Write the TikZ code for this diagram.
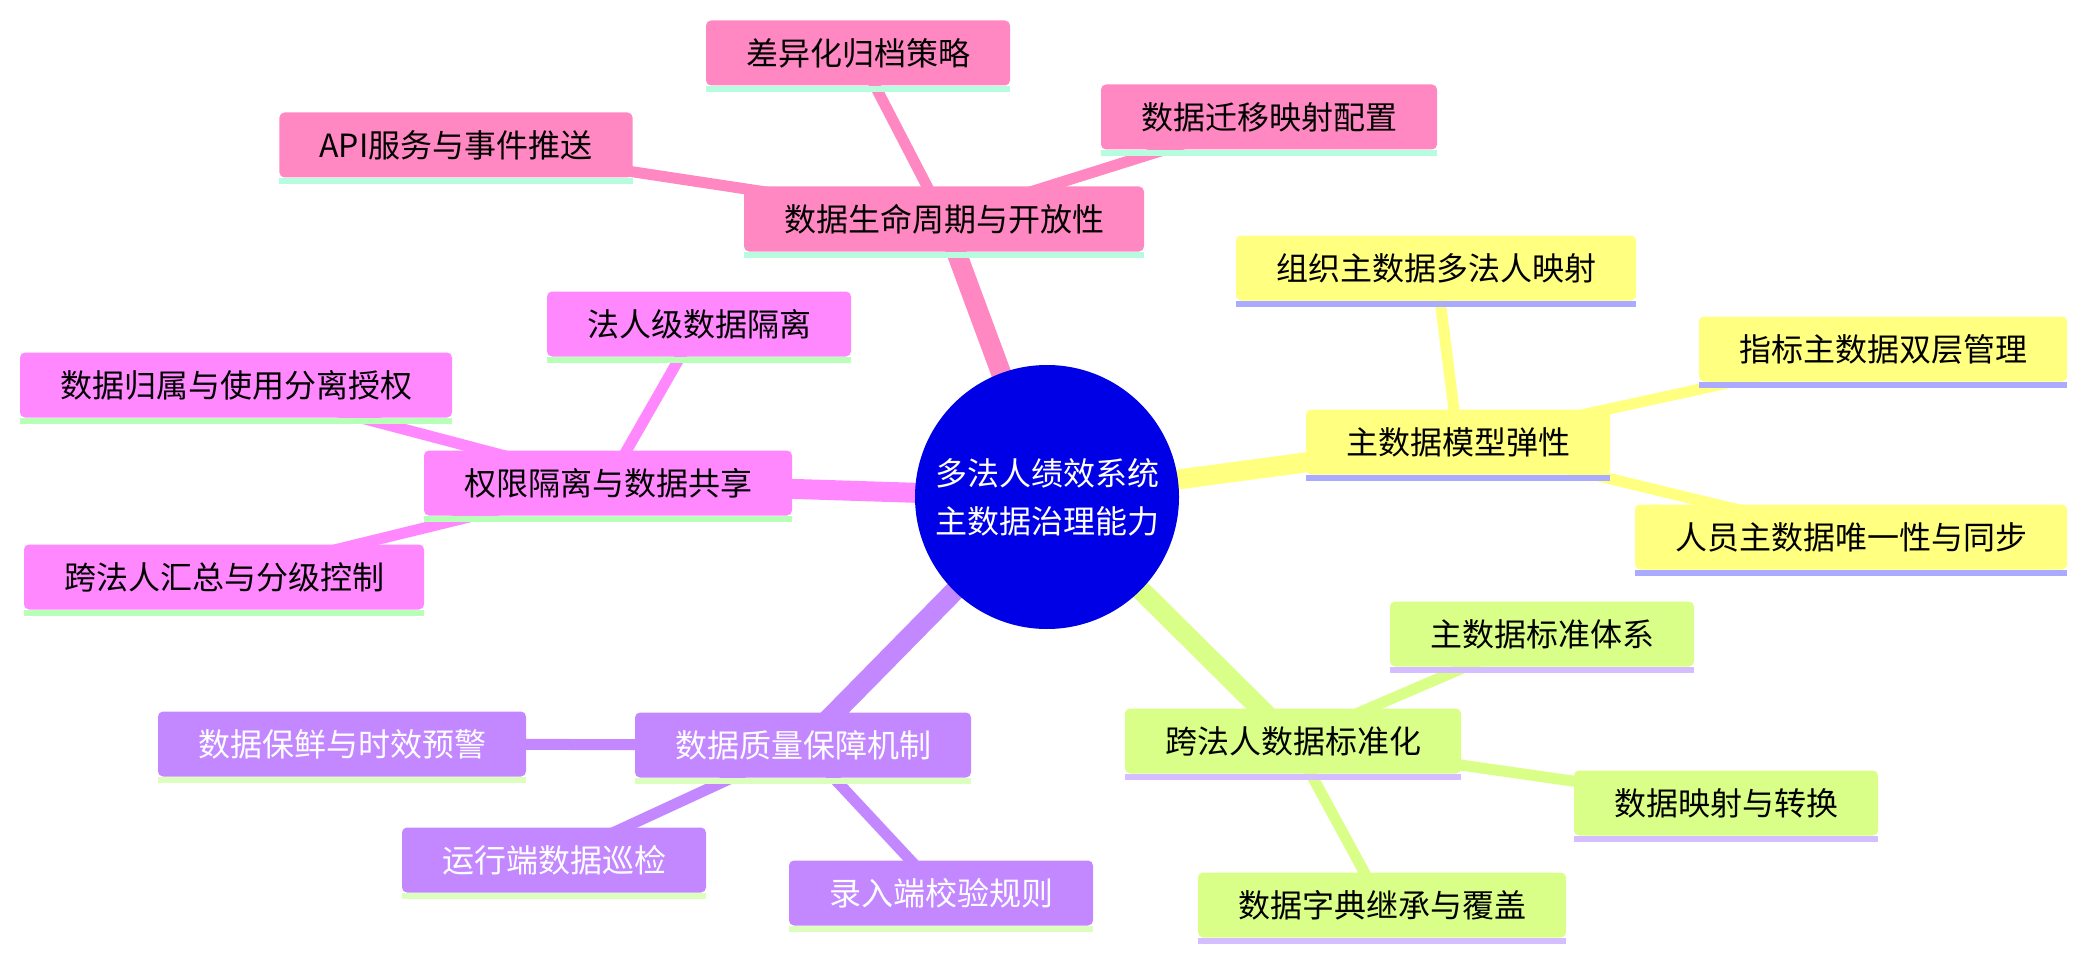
\documentclass[tikz,border=0pt]{standalone}
\usepackage{fontspec}
\setmainfont{Noto Sans CJK SC}
\usepackage{tikz}
\usetikzlibrary{backgrounds}

\definecolor{rootBlue}{RGB}{0,0,230}
\definecolor{lifeFill}{RGB}{255,136,194}
\definecolor{lifeLine}{RGB}{184,252,224}
\definecolor{permFill}{RGB}{255,136,255}
\definecolor{permLine}{RGB}{184,255,184}
\definecolor{modelFill}{RGB}{255,255,128}
\definecolor{modelLine}{RGB}{170,170,255}
\definecolor{stdFill}{RGB}{218,255,136}
\definecolor{stdLine}{RGB}{212,190,255}
\definecolor{qualFill}{RGB}{195,136,255}
\definecolor{qualLine}{RGB}{221,255,190}

\begin{document}
\begin{tikzpicture}[
            x=1pt, y=-1pt,
            every node/.style={font=\fontsize{32}{48}\selectfont},
            root/.style={
                circle,
                fill=rootBlue,
                text=white,
                minimum size=264pt,
                inner sep=0pt,
                align=center
            },
            leaf/.style={
                rectangle,
                rounded corners=5pt,
                inner xsep=40pt,
                inner ysep=0pt,
                minimum height=65pt,
                text=black
            },
            under/.style={
                append after command={([yshift=-3pt]\tikzlastnode.south west) edge[line width=6pt, draw=#1] ([yshift=-3pt]\tikzlastnode.south east)}
            },
            life/.style={leaf, fill=lifeFill, under=lifeLine},
            perm/.style={leaf, fill=permFill, under=permLine},
            model/.style={leaf, fill=modelFill, under=modelLine},
            std/.style={leaf, fill=stdFill, under=stdLine},
            qual/.style={leaf, fill=qualFill, under=qualLine, text=white},
            trunk/.style={line width=20pt},
            twig/.style={line width=11pt}
        ]
            \useasboundingbox (0,0) rectangle (2087,960);

            % --- ROOT ---
            \node [root] (root) at (1047,497) {多法人绩效系统\\主数据治理能力};

            % --- LIFECYCLE ---
            \node [life] (lifecycle) at (944,219) {数据生命周期与开放性};
            \node [life] (archive) at (858,53) {差异化归档策略};
            \node [life] (migrate) at (1269,117) {数据迁移映射配置};
            \node [life] (api) at (456,145) {API服务与事件推送};

            % --- ACCESS ---
            \node [perm] (access) at (608,483) {权限隔离与数据共享};
            \node [perm] (isolate) at (699,324) {法人级数据隔离};
            \node [perm] (owner) at (236,385) {数据归属与使用分离授权};
            \node [perm] (summary) at (224,577) {跨法人汇总与分级控制};

            % --- MODEL ---
            \node [model] (model) at (1458,442) {主数据模型弹性};
            \node [model] (orgmap) at (1436,268) {组织主数据多法人映射};
            \node [model] (metric) at (1883,349) {指标主数据双层管理};
            \node [model] (person) at (1851,537) {人员主数据唯一性与同步};

            % --- STANDARD ---
            \node [std] (standard) at (1293,741) {跨法人数据标准化};
            \node [std] (stdsys) at (1542,634) {主数据标准体系};
            \node [std] (mapping) at (1726,803) {数据映射与转换};
            \node [std] (dict) at (1382,905) {数据字典继承与覆盖};

            % --- QUALITY ---
            \node [qual] (quality) at (803,745) {数据质量保障机制};
            \node [qual] (fresh) at (342,744) {数据保鲜与时效预警};
            \node [qual] (patrol) at (554,860) {运行端数据巡检};
            \node [qual] (entry) at (941,893) {录入端校验规则};

            % --- BRANCHES ---
            \begin{scope}[on background layer]
                \draw [trunk, lifeFill] (root.center) -- (lifecycle.center);
                \draw [trunk, permFill] (root.center) -- (access.center);
                \draw [trunk, modelFill] (root.center) -- (model.center);
                \draw [trunk, stdFill] (root.center) -- (standard.center);
                \draw [trunk, qualFill] (root.center) -- (quality.center);

                \draw [twig, lifeFill] (lifecycle.center) -- (archive.center);
                \draw [twig, lifeFill] (lifecycle.center) -- (migrate.center);
                \draw [twig, lifeFill] (lifecycle.center) -- (api.center);

                \draw [twig, permFill] (access.center) -- (isolate.center);
                \draw [twig, permFill] (access.center) -- (owner.center);
                \draw [twig, permFill] (access.center) -- (summary.center);

                \draw [twig, modelFill] (model.center) -- (orgmap.center);
                \draw [twig, modelFill] (model.center) -- (metric.center);
                \draw [twig, modelFill] (model.center) -- (person.center);

                \draw [twig, stdFill] (standard.center) -- (stdsys.center);
                \draw [twig, stdFill] (standard.center) -- (mapping.center);
                \draw [twig, stdFill] (standard.center) -- (dict.center);

                \draw [twig, qualFill] (quality.center) -- (fresh.center);
                \draw [twig, qualFill] (quality.center) -- (patrol.center);
                \draw [twig, qualFill] (quality.center) -- (entry.center);
            \end{scope}
        \end{tikzpicture}
\end{document}
